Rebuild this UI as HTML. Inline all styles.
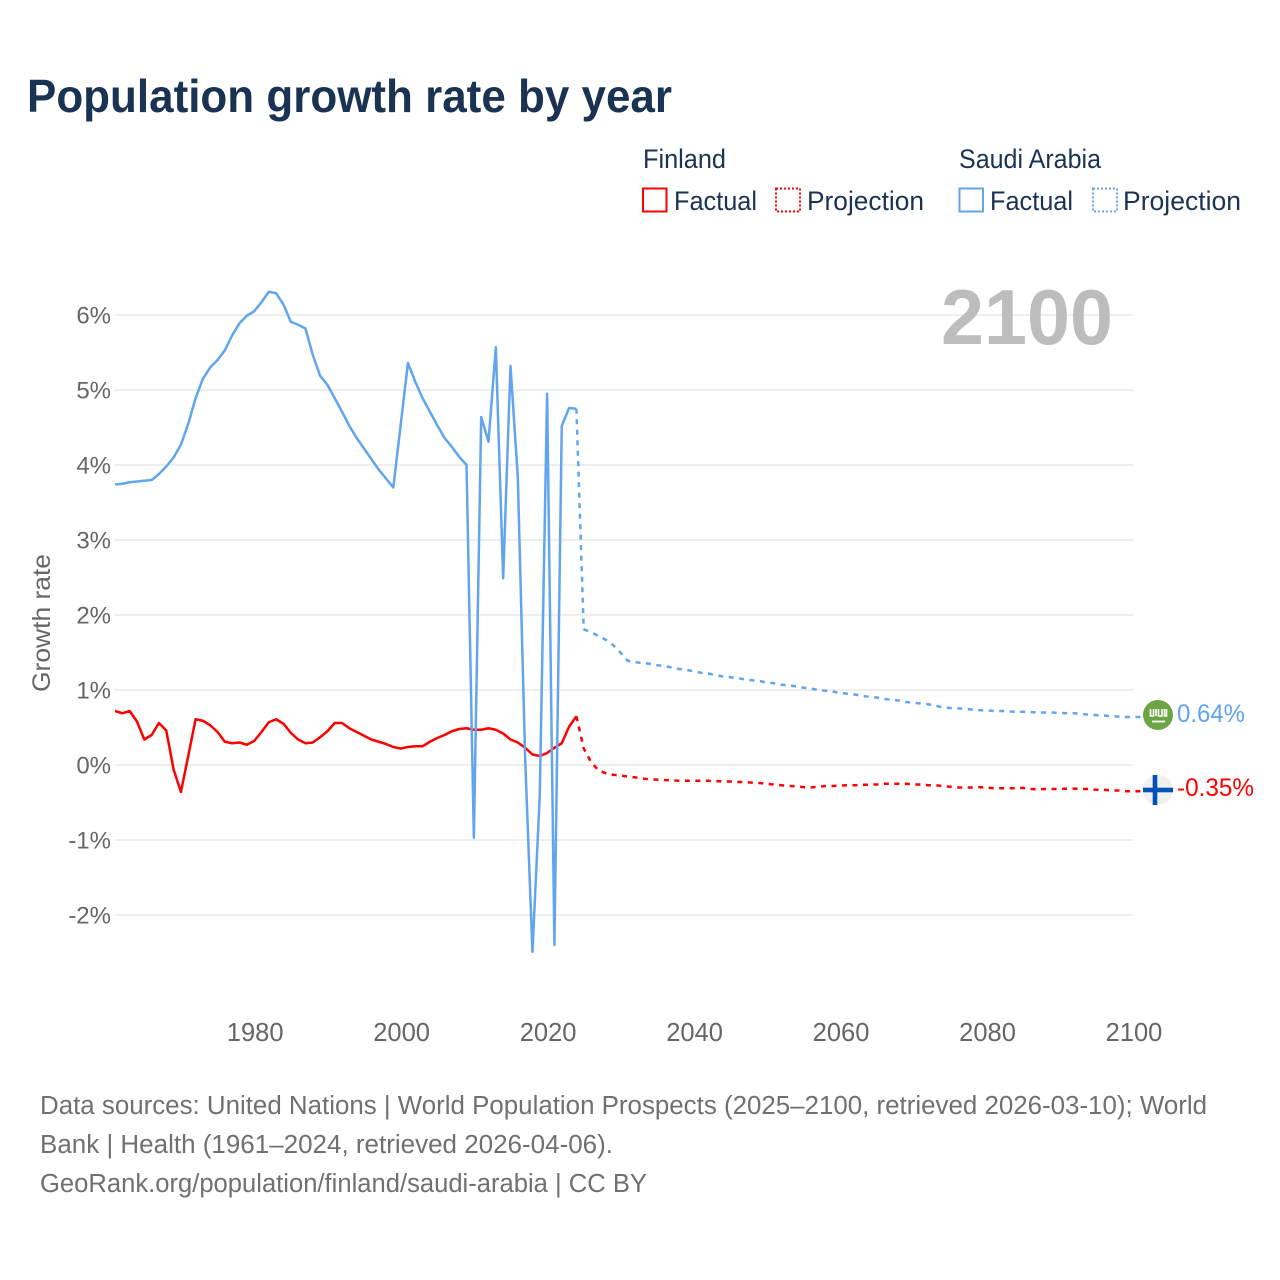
<!DOCTYPE html>
<html lang="en">
<head>
<meta charset="utf-8">
<title>Population growth rate by year</title>
<style>
html,body{margin:0;padding:0;background:#fff;}
svg{display:block;}
text{font-family:"Liberation Sans",sans-serif;}
</style>
</head>
<body>
<svg id="chart" xmlns="http://www.w3.org/2000/svg" width="1280" height="1280" viewBox="0 0 1280 1280">
  <rect x="0" y="0" width="1280" height="1280" fill="#ffffff"/>
  <text x="27" y="112" font-size="46" font-weight="700" fill="#1a3353" textLength="645" lengthAdjust="spacingAndGlyphs">Population growth rate by year</text>

  <g font-size="26.5" fill="#1a3353">
    <text x="643" y="168" textLength="83" lengthAdjust="spacingAndGlyphs">Finland</text>
    <rect x="643" y="188.5" width="23.5" height="23" fill="none" stroke="#ff0000" stroke-width="2"/>
    <text x="674" y="210" textLength="83" lengthAdjust="spacingAndGlyphs">Factual</text>
    <rect x="776" y="188.5" width="24" height="23" fill="none" stroke="#ff0000" stroke-width="2" stroke-dasharray="2 2"/>
    <text x="807" y="210" textLength="117" lengthAdjust="spacingAndGlyphs">Projection</text>
    <text x="959" y="168" textLength="142" lengthAdjust="spacingAndGlyphs">Saudi Arabia</text>
    <rect x="959.5" y="188.5" width="23.5" height="23" fill="none" stroke="#60a5ee" stroke-width="2"/>
    <text x="990" y="210" textLength="83" lengthAdjust="spacingAndGlyphs">Factual</text>
    <rect x="1093" y="188.5" width="24" height="23" fill="none" stroke="#60a5ee" stroke-width="2" stroke-dasharray="2 2"/>
    <text x="1123" y="210" textLength="118" lengthAdjust="spacingAndGlyphs">Projection</text>
  </g>

  <g id="grid"></g>
  <text x="941" y="344" font-size="78" font-weight="700" fill="#bdbdbd" textLength="172" lengthAdjust="spacingAndGlyphs">2100</text>
  <g id="yticks" font-size="24" fill="#666666" text-anchor="end"></g>
  <g id="xticks" font-size="25.5" fill="#666666" text-anchor="middle"></g>
  <text transform="translate(50,692) rotate(-90)" x="0" y="0" font-size="25" fill="#666666" textLength="138" lengthAdjust="spacingAndGlyphs">Growth rate</text>

  <g id="series" fill="none" stroke-width="2.5" stroke-linejoin="round"></g>

  <g id="end-markers">
    <g>
      <circle cx="1158" cy="790" r="15" fill="#f0f0f0"/>
      <rect x="1143" y="787.7" width="30" height="4.6" fill="#0052b4"/>
      <rect x="1152.7" y="775" width="4.6" height="30" fill="#0052b4"/>
    </g>
    <g>
      <circle cx="1158" cy="715" r="15" fill="#6da544"/>
      <g stroke="#ffffff" stroke-width="1.6" fill="none">
        <path d="M1150.5 709v7h3v-7M1156 709v7M1158.5 709v7h3.5v-7M1164.5 709v7h2v-7"/>
        <path d="M1152 721.5h13" stroke-width="1.8"/>
      </g>
    </g>
    <text x="1177" y="722" font-size="25" fill="#60a5ee" textLength="68" lengthAdjust="spacingAndGlyphs">0.64%</text>
    <text x="1177" y="796" font-size="25" fill="#ff0000" textLength="77" lengthAdjust="spacingAndGlyphs">-0.35%</text>
  </g>

  <g font-size="25.5" fill="#707070">
    <text x="40" y="1114" textLength="1167" lengthAdjust="spacingAndGlyphs">Data sources: United Nations | World Population Prospects (2025–2100, retrieved 2026-03-10); World</text>
    <text x="40" y="1153" textLength="573" lengthAdjust="spacingAndGlyphs">Bank | Health (1961–2024, retrieved 2026-04-06).</text>
    <text x="40" y="1192" textLength="607" lengthAdjust="spacingAndGlyphs">GeoRank.org/population/finland/saudi-arabia | CC BY</text>
  </g>
</svg>
<script>
const yTickValues = [-2, -1, 0, 1, 2, 3, 4, 5, 6];
const xTickYears = [1980, 2000, 2020, 2040, 2060, 2080, 2100];

const factualStartYear = 1961;
const projectionStartYear = 2024;

const finlandFactual = [
  0.72, 0.69, 0.72, 0.58, 0.34, 0.40, 0.56, 0.46, -0.06, -0.36,
  0.12, 0.61, 0.59, 0.53, 0.44, 0.31, 0.29, 0.30, 0.27, 0.32,
  0.44, 0.57, 0.61, 0.55, 0.43, 0.34, 0.29, 0.30, 0.37, 0.45,
  0.56, 0.56, 0.49, 0.44, 0.39, 0.34, 0.31, 0.28, 0.24, 0.22,
  0.24, 0.25, 0.25, 0.31, 0.36, 0.40, 0.45, 0.48, 0.49, 0.47,
  0.47, 0.49, 0.47, 0.42, 0.34, 0.30, 0.23, 0.14, 0.12, 0.16,
  0.23, 0.29, 0.51, 0.65
];
const finlandProjection = [
  0.65, 0.22, 0.04, -0.07, -0.11, -0.13, -0.14, -0.155, -0.165, -0.18,
  -0.19, -0.195, -0.20, -0.205, -0.21, -0.21, -0.21, -0.21, -0.21, -0.215,
  -0.22, -0.22, -0.225, -0.23, -0.235, -0.24, -0.25, -0.26, -0.27, -0.28,
  -0.285, -0.295, -0.30, -0.29, -0.28, -0.28, -0.275, -0.27, -0.27, -0.265,
  -0.26, -0.26, -0.25, -0.25, -0.25, -0.25, -0.26, -0.26, -0.27, -0.27,
  -0.28, -0.29, -0.30, -0.30, -0.30, -0.295, -0.30, -0.31, -0.31, -0.31,
  -0.31, -0.305, -0.32, -0.325, -0.32, -0.32, -0.32, -0.315, -0.315, -0.32,
  -0.32, -0.33, -0.33, -0.34, -0.34, -0.35, -0.35
];
const saudiFactual = [
  3.74, 3.75, 3.77, 3.78, 3.79, 3.80, 3.88, 3.98, 4.10, 4.27,
  4.55, 4.89, 5.15, 5.30, 5.40, 5.53, 5.73, 5.89, 5.99, 6.05,
  6.17, 6.31, 6.29, 6.14, 5.91, 5.87, 5.82, 5.47, 5.19, 5.07,
  4.89, 4.71, 4.52, 4.36, 4.22, 4.08, 3.94, 3.82, 3.70, 4.53,
  5.36, 5.11, 4.89, 4.71, 4.53, 4.36, 4.24, 4.11, 4.00, -0.97,
  4.64, 4.31, 5.57, 2.49, 5.32, 3.84, 0.10, -2.49, -0.40, 4.95,
  -2.40, 4.52, 4.76, 4.75
];
const saudiProjection = [
  4.75, 1.81, 1.77, 1.72, 1.67, 1.60, 1.50, 1.39, 1.37, 1.36,
  1.35, 1.33, 1.32, 1.30, 1.28, 1.27, 1.25, 1.23, 1.22, 1.20,
  1.18, 1.17, 1.16, 1.14, 1.13, 1.12, 1.10, 1.09, 1.07, 1.06,
  1.05, 1.03, 1.02, 1.00, 0.99, 0.98, 0.96, 0.95, 0.94, 0.92,
  0.91, 0.90, 0.88, 0.87, 0.86, 0.84, 0.83, 0.82, 0.81, 0.79,
  0.77, 0.76, 0.755, 0.75, 0.74, 0.73, 0.73, 0.72, 0.72, 0.715,
  0.71, 0.71, 0.705, 0.70, 0.70, 0.70, 0.695, 0.69, 0.69, 0.68,
  0.67, 0.665, 0.66, 0.65, 0.645, 0.64, 0.64
];

const NS = 'http://www.w3.org/2000/svg';
const xAxis = function (year) { return 115 + (year - 1961) * (1018 / 139); };
const yAxis = function (value) { return 765 - value * 75; };

function linePath(values, startYear) {
  return values.map(function (v, i) {
    return (i ? 'L' : 'M') + xAxis(startYear + i).toFixed(2) + ' ' + yAxis(v).toFixed(2);
  }).join('');
}

const gridGroup = document.getElementById('grid');
const yTickGroup = document.getElementById('yticks');
const xTickGroup = document.getElementById('xticks');
const seriesGroup = document.getElementById('series');

yTickValues.forEach(function (v) {
  const line = document.createElementNS(NS, 'line');
  
  
  line.setAttribute('x1', xAxis(1961));
  line.setAttribute('x2', xAxis(2100));
  line.setAttribute('y1', yAxis(v));
  line.setAttribute('y2', yAxis(v));
  line.setAttribute('stroke', '#eeeeee');
  line.setAttribute('stroke-width', '2');
  gridGroup.appendChild(line);

  const label = document.createElementNS(NS, 'text');
  
  
  label.setAttribute('x', 111);
  label.setAttribute('y', yAxis(v) + 8.5);
  label.textContent = v + '%';
  yTickGroup.appendChild(label);
});

xTickYears.forEach(function (year) {
  const label = document.createElementNS(NS, 'text');
  
  
  label.setAttribute('x', xAxis(year) + 1);
  label.setAttribute('y', 1041);
  label.textContent = year;
  xTickGroup.appendChild(label);
});

function addSeries(name, d, color, dashed) {
  const path = document.createElementNS(NS, 'path');
  
  
  path.setAttribute('d', d);
  path.setAttribute('stroke', color);
  if (dashed) {
    path.setAttribute('stroke-dasharray', '5 5.5');
  }
  seriesGroup.appendChild(path);
}

function endConnector(values) {
  const endY = yAxis(values[values.length - 1]);
  return 'L1143 ' + endY.toFixed(2);
}

addSeries('finland-factual-line', linePath(finlandFactual, factualStartYear), '#ff0000', false);
addSeries('finland-projection-line', linePath(finlandProjection, projectionStartYear) + endConnector(finlandProjection), '#ff0000', true);
addSeries('saudi-arabia-factual-line', linePath(saudiFactual, factualStartYear), '#60a5ee', false);
addSeries('saudi-arabia-projection-line', linePath(saudiProjection, projectionStartYear) + endConnector(saudiProjection), '#60a5ee', true);
</script>
</body>
</html>
